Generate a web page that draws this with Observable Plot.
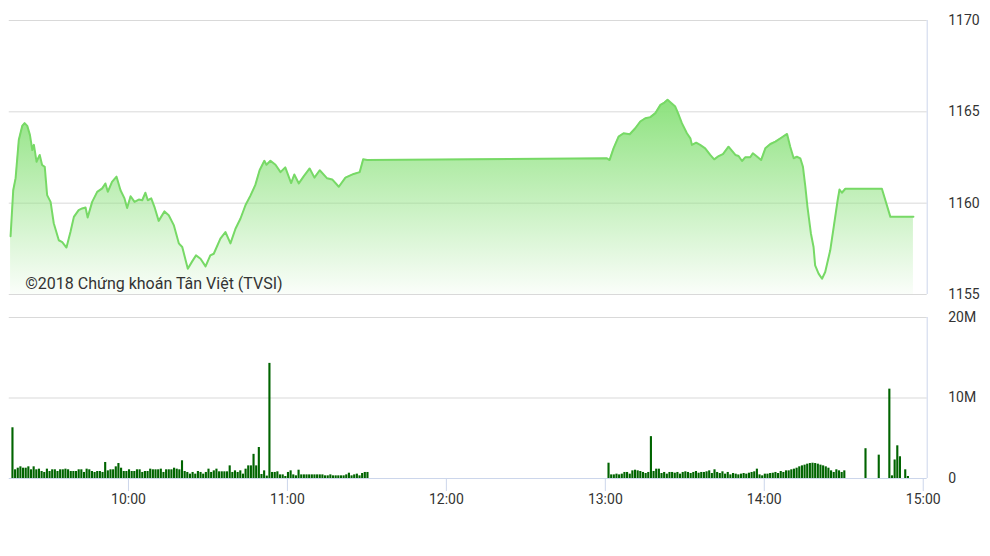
<!DOCTYPE html>
<html><head><meta charset="utf-8">
<script src="https://cdn.jsdelivr.net/npm/d3@7"></script>
<script src="https://cdn.jsdelivr.net/npm/@observablehq/plot@0.6"></script>
<style>
body{margin:0;background:#fff;}
#wrap{position:relative;width:990px;height:556px;font-family:Roboto,sans-serif;}
#top,#bot{position:absolute;left:0;}
#top{top:0}
#bot{top:300px}
</style></head><body>
<div id="wrap"><div id="top"></div><div id="bot"></div></div>
<script>
// Time in minutes since 9:00
const priceTime = [
15.5,16.5,17.4,18.6,19.9,20.8,21.8,22.8,23.7,24.3,
25.3,26.5,27.4,28.4,29.3,30.6,31.8,33.7,35.0,36.6,
38.1,39.4,41.2,42.5,43.8,44.6,46.3,48.2,50.1,51.3,
52.2,53.8,55.5,57.0,58.5,59.5,60.8,62.3,63.9,65.2,
66.4,67.3,68.6,69.8,71.4,73.6,75.2,77.1,79.0,80.3,
82.4,84.0,85.5,87.2,89.1,90.9,92.2,94.7,96.6,98.5,
100.4,102.3,104.2,106.0,107.9,109.5,111.3,112.1,113.6,115.5,
117.4,119.2,121.4,122.6,124.3,126.2,128.4,130.2,132.2,135.0,
136.9,139.4,141.9,145.0,147.3,148.6,150.1,
240.6,241.6,243.1,245.0,246.9,249.2,251.3,253.2,255.1,257.0,
258.9,260.8,262.3,263.5,265.2,266.4,267.7,268.9,270.8,272.1,
272.7,274.3,275.8,277.7,279.6,281.1,282.8,284.4,286.5,289.1,
290.3,291.6,292.8,294.7,295.7,297.0,298.8,300.4,302.3,304.2,
306.7,308.6,309.8,311.1,312.3,313.6,314.6,315.5,316.3,317.6,
318.6,319.2,320.5,321.8,323.0,324.9,326.4,327.7,328.4,329.3,
330.6,344.4,347.6,356.3
];
const priceValue = [
1158.19,1160.71,1161.37,1163.46,1164.23,1164.38,1164.23,1163.74,1162.91,1163.19,
1162.27,1162.64,1162.09,1161.99,1160.44,1160.07,1158.9,1157.97,1157.87,1157.57,
1158.42,1159.25,1159.62,1159.71,1159.76,1159.21,1160.07,1160.62,1160.81,1161.08,
1160.62,1161.17,1161.45,1160.71,1160.26,1159.74,1160.38,1160.07,1160.2,1160.16,
1160.57,1160.16,1160.26,1159.8,1159.03,1159.55,1159.34,1158.8,1157.8,1157.6,
1156.41,1156.8,1157.14,1156.96,1156.54,1157.14,1157.23,1158.06,1158.42,1157.8,
1158.6,1159.16,1159.9,1160.4,1161.0,1161.8,1162.32,1162.1,1162.32,1162.1,
1161.7,1161.96,1161.1,1161.57,1161.08,1161.48,1161.9,1161.4,1161.8,1161.36,
1161.3,1160.9,1161.4,1161.6,1161.7,1162.4,1162.36,
1162.46,1162.36,1163.0,1163.64,1163.83,1163.77,1164.1,1164.47,1164.65,1164.71,
1164.93,1165.38,1165.51,1165.66,1165.44,1165.29,1164.84,1164.38,1163.83,1163.55,
1163.19,1163.31,1163.19,1163.0,1162.64,1162.4,1162.58,1162.69,1163.09,1162.64,
1162.58,1162.31,1162.51,1162.51,1162.73,1162.58,1162.36,1163.0,1163.24,1163.37,
1163.61,1163.79,1163.09,1162.46,1162.54,1162.45,1161.99,1160.9,1159.8,1158.34,
1157.6,1156.59,1156.14,1155.86,1156.23,1157.42,1158.88,1160.16,1160.75,1160.57,
1160.79,1160.79,1159.25,1159.25
];

// Volume (millions), one bar per minute
const volMorningStart = 16;   // 9:16
const volMorning = [
6.3,1.08,1.28,1.45,1.28,1.28,1.45,1.08,1.45,1.08,
1.16,0.87,0.75,1.16,0.87,1.08,1.08,0.87,1.08,1.08,
1.16,1.08,0.87,0.87,0.87,1.08,1.08,0.75,1.16,1.08,
0.87,0.75,0.87,0.87,0.75,1.99,0.95,1.08,1.08,1.45,
1.86,1.28,0.87,0.87,1.08,0.87,0.87,1.08,1.08,0.75,
0.87,0.87,1.16,1.08,1.08,1.08,1.16,0.75,1.08,1.08,
1.08,1.28,1.16,1.08,2.2,0.87,0.75,0.54,0.75,0.54,
0.87,0.75,0.54,0.75,1.16,0.75,0.95,1.16,0.83,0.83,
0.83,0.83,1.57,0.75,0.95,0.75,0.95,0.54,1.16,1.57,
1.57,3.0,1.57,3.85,0.5,0.95,0.3,14.3,0.75,0.75,
0.83,0.45,0.45,0.25,0.75,0.95,0.45,0.33,1.03,0.45,
0.45,0.45,0.45,0.45,0.45,0.45,0.45,0.45,0.33,0.33,
0.45,0.33,0.33,0.33,0.33,0.33,0.45,0.66,0.33,0.45,
0.54,0.33,0.62,0.75,0.75
];
const volAfternoonStart = 241; // 13:01
const volAfternoon = [
1.9,0.45,0.45,0.54,0.45,0.54,0.75,0.75,0.54,0.95,
1.03,0.95,0.87,0.75,0.62,0.75,5.2,0.87,1.16,1.16,
0.62,0.75,0.54,0.75,0.75,0.66,0.75,0.54,0.75,0.83,
0.75,0.62,0.75,0.87,0.66,0.75,0.75,0.83,0.95,0.62,
1.08,0.75,0.62,0.83,0.54,0.75,0.45,0.62,0.54,0.45,
0.54,0.62,0.54,0.66,0.75,0.83,1.16,0.45,0.33,0.54,
0.54,0.62,0.66,0.75,0.62,0.87,0.75,0.95,0.95,1.08,
1.16,1.28,1.45,1.57,1.66,1.78,1.86,1.9,1.86,1.78,
1.66,1.57,1.45,1.28,0.95,0.75,1.08,0.95,0.75,0.95
];
const volCloseTime = [338,343,347,348,349,350,351,353,354];
const volClose = [3.7,2.9,11.1,0.33,2.3,4.06,2.7,1.08,0.25];

const priceTicks = [1155,1160,1165,1170];
const volTicks = [0,10,20];
const volTickLabels = ["0","10M","20M"];
const timeTicks = [60,120,180,240,300,360];
const timeTickLabels = ["10:00","11:00","12:00","13:00","14:00","15:00"];
const caption = "©2018 Chứng khoán Tân Việt (TVSI)";

const price = priceTime.map((t,i)=>({t, v: priceValue[i]}));
const vol = [
  ...volMorning.map((v,i)=>({t: volMorningStart + i, v})),
  ...volAfternoon.map((v,i)=>({t: volAfternoonStart + i, v})),
  ...volClose.map((v,i)=>({t: volCloseTime[i], v}))
];

const xDomain = [15, 361.5];
const common = {width: 990, marginLeft: 8.75, marginRight: 63.3,
  style: {fontFamily: "Roboto, sans-serif", fontSize: "14px", color: "#333", background: "transparent", overflow: "visible"}};

const topChart = Plot.plot({
  ...common, height: 300, marginTop: 20, marginBottom: 6,
  x: {domain: xDomain, axis: null},
  y: {domain: [1155, 1170], axis: null},
  marks: [
    Plot.gridY(priceTicks, {stroke: "#d9d9d9", strokeOpacity: 1}),
    Plot.ruleX([xDomain[1]], {stroke: "#ccd6eb"}),
    Plot.areaY(price, {x: "t", y1: 1155, y2: "v", fill: "url(#areaGrad)"}),
    Plot.lineY(price, {x: "t", y: "v", stroke: "#77d966", strokeWidth: 2}),
    Plot.axisY({anchor: "right", ticks: priceTicks, tickFormat: d => String(d), tickSize: 0, tickPadding: 21, fill: "#333", label: null}),
    Plot.text([caption], {frameAnchor: "bottom-left", dx: 16, dy: -11, lineAnchor: "middle", textAnchor: "start", fontSize: 16, fill: "#333"})
  ]
});
const svgTop = d3.select(topChart);
const defs = svgTop.insert("defs", ":first-child");
const grad = defs.append("linearGradient").attr("id", "areaGrad").attr("x1", 0).attr("y1", 0).attr("x2", 0).attr("y2", 1);
grad.append("stop").attr("offset", "0%").attr("stop-color", "#8de27e").attr("stop-opacity", 1);
grad.append("stop").attr("offset", "100%").attr("stop-color", "#8de27e").attr("stop-opacity", 0.04);
document.getElementById("top").appendChild(topChart);

const botChart = Plot.plot({
  ...common, height: 256, marginTop: 17, marginBottom: 78,
  x: {domain: xDomain},
  y: {domain: [0, 20]},
  marks: [
    Plot.gridY([10, 20], {stroke: "#d9d9d9", strokeOpacity: 1}),
    Plot.ruleX([xDomain[1]], {stroke: "#ccd6eb"}),
    Plot.rectY(vol, {x1: d => d.t, x2: d => d.t + 0.8, y1: 0, y2: "v", fill: "#006400"}),
    Plot.ruleY([0], {stroke: "#ccd6eb"}),
    Plot.axisX({ticks: timeTicks, tickFormat: d => timeTickLabels[timeTicks.indexOf(d)], tickSize: 13, tickPadding: 3, stroke: "#ccd6eb", fill: "#333", label: null}),
    Plot.axisY({anchor: "right", ticks: volTicks, tickFormat: d => volTickLabels[volTicks.indexOf(d)], tickSize: 0, tickPadding: 21, fill: "#333", label: null})
  ]
});
document.getElementById("bot").appendChild(botChart);
</script>
</body></html>
